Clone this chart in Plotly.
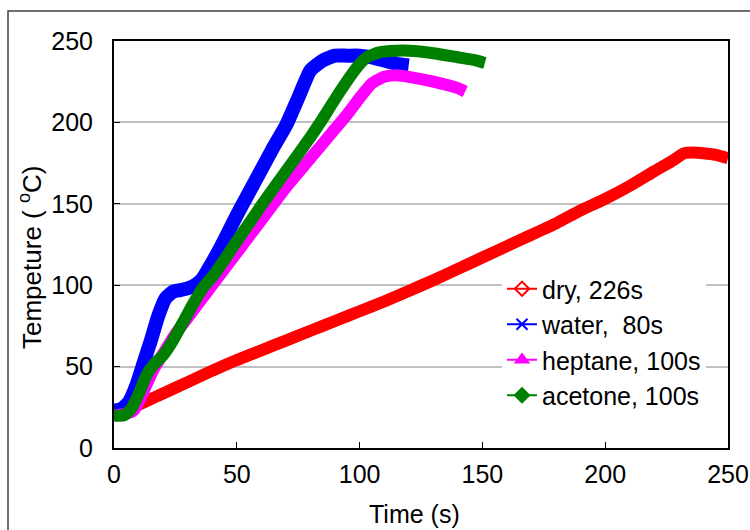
import plotly.graph_objects as go

# ---- data ----
dry_t = [0, 5, 10, 20, 30, 40, 50, 60, 70, 80, 90, 100, 110, 120, 130, 140, 150,
         160, 170, 180, 190, 200, 210, 220, 228, 232, 236, 240, 245, 250]
dry_T = [21, 23.5, 26.5, 33.5, 40.5, 47.5, 54, 60, 66, 72, 78, 84, 90, 96.5, 103, 110, 117,
         124, 131, 138, 146, 153, 161, 170, 177, 181, 181.5, 181, 180, 178]

water_t = [0, 3, 6, 9, 12, 15, 18, 21, 24, 27, 30, 33, 36, 40, 45, 50, 55, 60,
           65, 70, 75, 80, 85, 90, 95, 100, 105, 110, 115, 120]
water_T = [23, 24, 28, 38, 52, 66, 81, 92, 96, 97, 98, 100, 104, 114, 128, 143,
           157, 171, 185, 198, 215, 232, 238, 241, 241, 241, 240, 238, 236, 235]

heptane_t = [0, 5, 8, 10, 13, 16, 20, 25, 30, 35, 40, 50, 60, 70, 80, 90, 95,
             100, 105, 110, 115, 120, 130, 140, 143]
heptane_T = [20, 21, 23, 28, 38, 48, 58, 70, 80, 90, 100, 120, 140, 160, 178,
             196, 205, 215, 224, 228, 229, 228, 225, 221, 219]

acetone_t = [0, 4, 7, 10, 13, 16, 20, 24, 28, 32, 36, 41, 50, 60, 70, 80, 84,
             92, 99, 103, 108, 115, 120, 130, 140, 146, 151]
acetone_T = [20, 20, 24, 33, 44, 51, 57, 66, 77, 88, 98, 107, 127, 149, 170,
             191, 200, 219, 234, 240, 243, 244, 244, 242.5, 240, 238.5, 236.5]

names = ["dry, 226s", "water,  80s", "heptane, 100s", "acetone, 100s"]
colors = ["#ff0000", "#0000ff", "#ff00ff", "#008000"]
symbols = ["diamond-open", "x-thin", "triangle-up", "diamond"]
widths = [12, 14, 12, 12]
xs = [dry_t, water_t, heptane_t, acetone_t]
ys = [dry_T, water_T, heptane_T, acetone_T]

FONT = "Liberation Sans, Arial, sans-serif"
FS = 25

fig = go.Figure()
# thick bands (the dense-marker curves)
for x, y, c, w in zip(xs, ys, colors, widths):
    fig.add_trace(go.Scatter(x=x, y=y, mode="lines",
                             line=dict(color=c, width=w, shape="spline", smoothing=0.5),
                             showlegend=False, hoverinfo="skip"))
# legend entries (line + marker)
for n, c, s in zip(names, colors, symbols):
    fig.add_trace(go.Scatter(x=[None], y=[None], mode="lines+markers", name=n,
                             line=dict(color=c, width=2),
                             marker=dict(symbol=s, size=11, color=c,
                                         line=dict(color=c, width=2))))

def px2x(px):
    return (px - 114) / 614

def px2y(py):
    return (448 - py) / 407

fig.update_layout(
    width=750, height=530,
    margin=dict(l=114, r=22, t=41, b=82, autoexpand=False),
    paper_bgcolor="white", plot_bgcolor="white",
    font=dict(family=FONT, size=FS, color="black"),
    showlegend=True,
    legend=dict(x=px2x(502), y=px2y(266), xanchor="left", yanchor="top",
                bgcolor="white", borderwidth=0, font=dict(size=FS),
                itemwidth=30),
    xaxis=dict(range=[0, 250], dtick=50, tick0=0, showgrid=False, automargin=False,
               showline=True, linecolor="black", linewidth=2, mirror=True,
               ticks="inside", ticklen=6, tickcolor="black", tickwidth=1,
               ticklabelstandoff=3, zeroline=False),
    yaxis=dict(range=[0, 250], dtick=50, tick0=0, showgrid=True, automargin=False,
               gridcolor="#c0c0c0", gridwidth=1.5,
               showline=True, linecolor="black", linewidth=2, mirror=True,
               ticks="inside", ticklen=6, tickcolor="black", tickwidth=1,
               ticklabelstandoff=14, zeroline=False),
    annotations=[
        dict(text="Tempeture ( <sup>o</sup>C)", xref="paper", yref="paper",
             x=px2x(30), y=px2y(257), xanchor="center", yanchor="middle",
             textangle=-90, showarrow=False, font=dict(size=26)),
        dict(text="Time (s)", xref="paper", yref="paper",
             x=px2x(414), y=px2y(514), xanchor="center", yanchor="middle",
             showarrow=False, font=dict(size=FS)),
    ],
    shapes=[
        dict(type="rect", xref="paper", yref="paper",
             x0=px2x(8), x1=px2x(770), y0=px2y(560), y1=px2y(11),
             line=dict(color="#404040", width=1.5), fillcolor="rgba(0,0,0,0)",
             layer="below"),
        dict(type="rect", xref="paper", yref="paper",
             x0=px2x(480), x1=px2x(706), y0=px2y(405), y1=px2y(274),
             line=dict(width=0), fillcolor="white", layer="between"),
    ],
)

fig.write_html("out.html")
